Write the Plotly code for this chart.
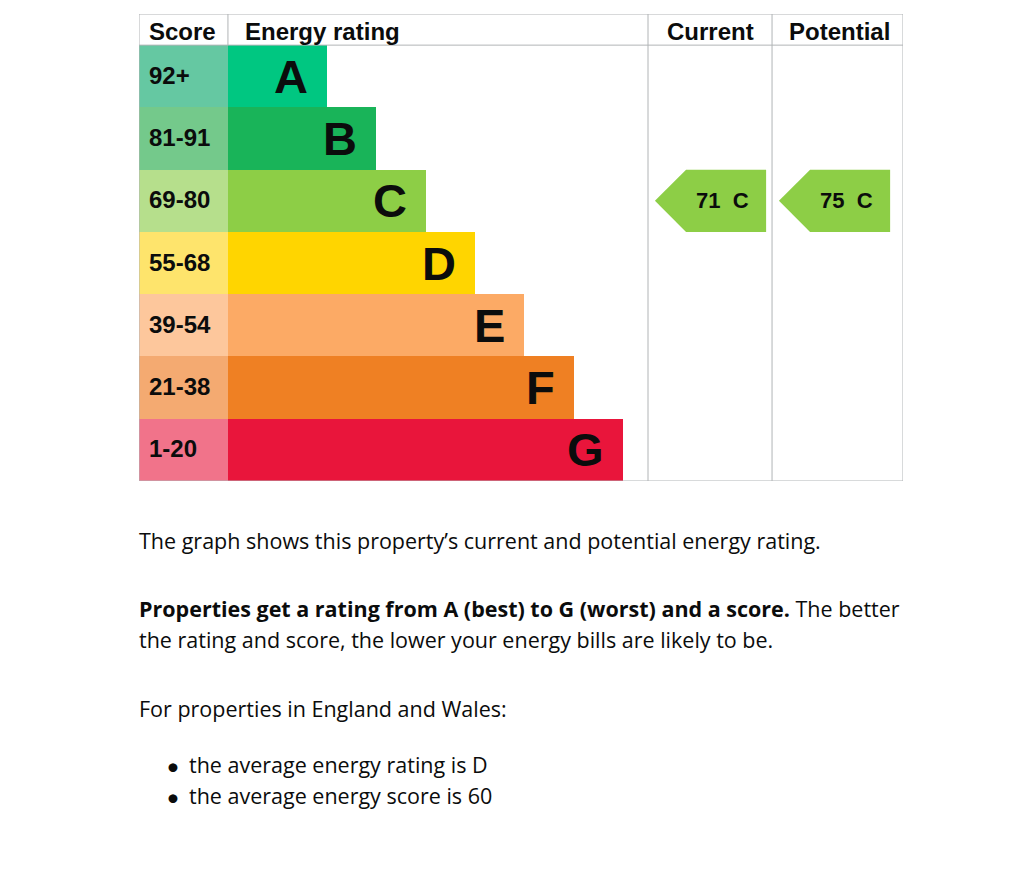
import plotly.graph_objects as go

# EPC bands
bands = ['A', 'B', 'C', 'D', 'E', 'F', 'G']
score_ranges = ['92+', '81-91', '69-80', '55-68', '39-54', '21-38', '1-20']
band_floor = [92, 81, 69, 55, 39, 21, 1]
bar_lengths = [2, 3, 4, 5, 6, 7, 8]
band_colors = ['#00c781', '#19b459', '#8dce46', '#ffd500', '#fcaa65', '#ef8023', '#e9153b']
score_colors = ['#65c8a2', '#74c98b', '#b6df8c', '#fee46c', '#fdc79c', '#f4aa71', '#f1738a']

current_score = 71
potential_score = 75

W, H = 1024, 871
GRID = '#b1b4b6'
ARIAL = 'Arial, Liberation Sans, sans-serif'
BODY = 'Open Sans, sans-serif'

# column edges in axis units
score_left = -1.8
cur_left = 8.5
pot_left = 11.01
right_edge = 13.66


def band_index(score):
    for i, floor in enumerate(band_floor):
        if score >= floor:
            return i
    return len(band_floor) - 1


fig = go.Figure()

# score column
fig.add_trace(go.Bar(
    y=list(range(len(bands))), x=[-score_left] * len(bands), base=score_left,
    orientation='h', width=1, marker=dict(color=score_colors, line=dict(width=0)),
    hoverinfo='skip', showlegend=False
))

# rating bars
fig.add_trace(go.Bar(
    y=list(range(len(bands))), x=bar_lengths, base=0,
    orientation='h', width=1, marker=dict(color=band_colors, line=dict(width=0)),
    hoverinfo='skip', showlegend=False
))

for i, b in enumerate(bands):
    fig.add_annotation(x=score_left, y=i, text='<b>%s</b>' % score_ranges[i],
                       xanchor='left', xshift=8, yshift=1, showarrow=False,
                       font=dict(family=ARIAL, size=24, color='#0b0c0c'))
    fig.add_annotation(x=bar_lengths[i], y=i, text='<b>%s</b>' % b,
                       xanchor='right', xshift=-17, showarrow=False,
                       font=dict(family=ARIAL, size=47, color='#0b0c0c'))

# current / potential arrows
for left, score in [(cur_left, current_score), (pot_left, potential_score)]:
    r = band_index(score)
    tip, notch, end = left + 0.14, left + 0.77, left + 2.39
    fig.add_trace(go.Scatter(
        x=[tip, notch, end, end, notch, tip],
        y=[r, r - 0.5, r - 0.5, r + 0.5, r + 0.5, r],
        mode='lines', fill='toself', fillcolor=band_colors[r],
        line=dict(width=0, color=band_colors[r]),
        hoverinfo='skip', showlegend=False
    ))
    fig.add_annotation(x=left + 1.5, y=r, text='<b>%d  %s</b>' % (score, bands[r]),
                       showarrow=False, font=dict(family=ARIAL, size=22, color='#0b0c0c'))

# headers
hy = -0.72
fig.add_annotation(x=score_left, y=hy, text='<b>Score</b>', xanchor='left', xshift=8,
                   showarrow=False, font=dict(family=ARIAL, size=24, color='#0b0c0c'))
fig.add_annotation(x=0, y=hy, text='<b>Energy rating</b>', xanchor='left', xshift=15,
                   showarrow=False, font=dict(family=ARIAL, size=24, color='#0b0c0c'))
fig.add_annotation(x=(cur_left + pot_left) / 2, y=hy, text='<b>Current</b>',
                   showarrow=False, font=dict(family=ARIAL, size=24, color='#0b0c0c'))
fig.add_annotation(x=(pot_left + right_edge) / 2, y=hy, text='<b>Potential</b>', xshift=2,
                   showarrow=False, font=dict(family=ARIAL, size=24, color='#0b0c0c'))

# grid lines
line = dict(color=GRID, width=1)
fig.add_shape(type='rect', x0=score_left, x1=right_edge, y0=-1, y1=6.5, line=line, layer='above')
fig.add_shape(type='line', x0=score_left, x1=right_edge, y0=-0.5, y1=-0.5, line=line)
for xv in [0, cur_left, pot_left]:
    y1 = -0.5 if xv == 0 else 6.5
    fig.add_shape(type='line', x0=xv, x1=xv, y0=-1, y1=y1, line=line)

# explanatory text below the chart
def py(px):
    return 1 - px / H

px_left = 137 / W
texts = [
    (540, 'The graph shows this property’s current and potential energy rating.', px_left),
    (608, '<b>Properties get a rating from A (best) to G (worst) and a score.</b> The better', px_left),
    (639, 'the rating and score, the lower your energy bills are likely to be.', px_left),
    (708, 'For properties in England and Wales:', px_left),
    (764, 'the average energy rating is D', 187 / W),
    (795, 'the average energy score is 60', 187 / W),
]
for ypx, t, xp in texts:
    fig.add_annotation(x=xp, y=py(ypx), xref='paper', yref='paper', text=t,
                       xanchor='left', yanchor='middle', showarrow=False,
                       font=dict(family=BODY, size=21.5, color='#0b0c0c'))
# bullets
for ypx in [765, 796]:
    fig.add_annotation(x=164 / W, y=py(ypx), xref='paper', yref='paper', text='•',
                       xanchor='left', yanchor='middle', showarrow=False,
                       font=dict(family='Lato, sans-serif', size=24, color='#0b0c0c'))

fig.update_layout(
    width=W, height=H,
    margin=dict(l=0, r=0, t=0, b=0),
    plot_bgcolor='white', paper_bgcolor='white',
    barmode='overlay', bargap=0,
    xaxis=dict(domain=[139 / W, 903 / W], range=[score_left, right_edge],
               visible=False, fixedrange=True),
    yaxis=dict(domain=[py(481), py(14)], range=[6.5, -1], visible=False, fixedrange=True),
)

fig.write_html('out.html', config={'displayModeBar': False},
               post_script="document.body.style.margin='0';")
